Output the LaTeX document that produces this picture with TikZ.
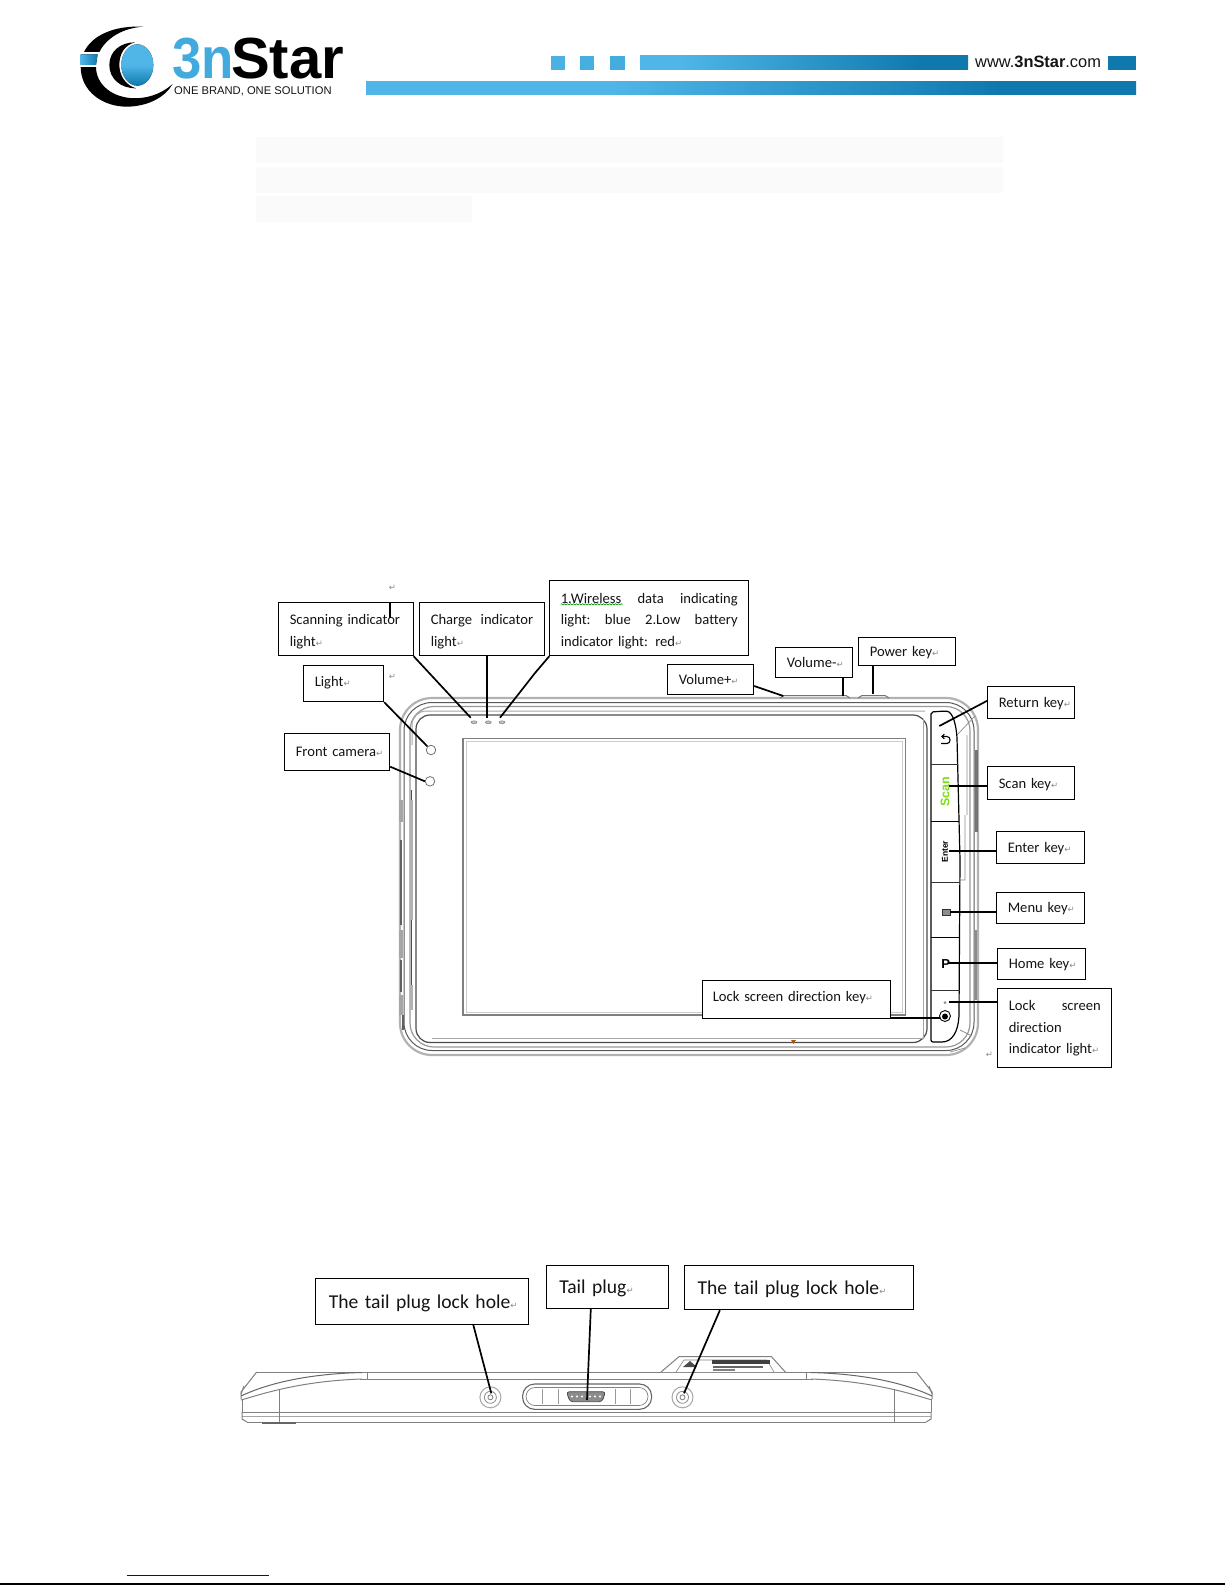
\documentclass[tikz,border=0pt]{standalone}
\usepackage{fontspec}
\setmainfont[Ligatures=CommonOff]{Carlito}
\newfontfamily\dvfont{DejaVu Sans}
\newfontfamily\arfont{Liberation Sans}
\usetikzlibrary{decorations.pathmorphing,shapes.geometric,arrows.meta}
\definecolor{hdrlight}{HTML}{4FB6E7}
\definecolor{hdrdark}{HTML}{0F79AE}
\definecolor{txtc}{HTML}{141414}
\definecolor{markc}{HTML}{8A8A8A}
\definecolor{scangreen}{HTML}{7EDD12}
\pgfdeclarehorizontalshading{hdrupper}{100bp}{color(0bp)=(hdrlight); color(31bp)=(hdrlight); color(68bp)=(hdrdark); color(100bp)=(hdrdark)}
\pgfdeclarehorizontalshading{hdrlower}{100bp}{color(0bp)=(hdrlight); color(41bp)=(hdrlight); color(66bp)=(hdrdark); color(100bp)=(hdrdark)}
\newcommand{\rtm}{{\color{markc}\dvfont\fontsize{8.5}{8.5}\selectfont ↵}}
\tikzset{
  lab/.style={draw=black,line width=.9pt,fill=white,anchor=north west,align=left,inner xsep=11pt,inner ysep=0pt,
    text=txtc,font=\fontsize{14.6}{21.8}\selectfont},
  biglab/.style={lab,font=\fontsize{19.6}{24}\selectfont,inner xsep=13pt},
  dn/.style={execute at end node={\par\vspace*{-#1}}},
  leader/.style={draw=black,line width=1.7pt},
  shell/.style={draw=#1},
  hilite/.style={fill=black!2,draw=none},
  sideline/.style={draw=black!50,line width=1pt},
  markn/.style={inner sep=0pt}
}
\begin{document}
\begin{tikzpicture}[x=1pt,y=-1pt]
\useasboundingbox (0,0) rectangle (1225,1585);
\fill[white] (0,0) rectangle (1225,1585);

% ---- logo, in zoom coordinates
\begin{scope}[shift={(60,10)},x=.3333pt,y=-.3333pt]
  \fill[black] (250,50) .. controls (130,45) and (62,100) .. (62,170)
     .. controls (62,245) and (130,292) .. (205,290)
     .. controls (265,288) and (315,262) .. (338,222)
     .. controls (300,255) and (255,268) .. (210,264)
     .. controls (150,258) and (108,220) .. (108,170)
     .. controls (108,105) and (170,55) .. (250,50) -- cycle;
  \fill[white] (55,125) rectangle (125,172);
  \fill[left color=hdrlight,right color=hdrdark] (62,133) -- (113,133) -- (108,165) -- (62,165) -- cycle;
  \fill[black] (225,97) .. controls (180,97) and (148,125) .. (148,165)
     .. controls (148,205) and (180,235) .. (228,235)
     .. controls (195,225) and (178,195) .. (178,165)
     .. controls (178,130) and (195,105) .. (225,97) -- cycle;
  \fill[top color=hdrlight,bottom color=hdrdark,middle color=hdrlight] (232,165) ellipse [x radius=48,y radius=62];
\end{scope}
\node[inner sep=0pt,anchor=base west,text=hdrlight!80!hdrdark,font=\arfont\bfseries\fontsize{58}{58}\selectfont,xscale=.91,text depth=0pt] (logoa) at (172,78) {3n};
\node[inner sep=0pt,anchor=base west,text=black,font=\arfont\bfseries\fontsize{58}{58}\selectfont,xscale=1.0,text depth=0pt] (logob) at (231,78) {Star};
\node[inner sep=0pt,anchor=base west,text=txtc,font=\arfont\fontsize{11.2}{12}\selectfont] (slogan) at (174,94.5) {ONE BRAND, ONE SOLUTION};

% ---- header bars
\fill[hdrlight!92!hdrdark] (551,55.6) rectangle (565,69.7);
\fill[hdrlight!88!hdrdark] (580,55.6) rectangle (594,69.7);
\fill[hdrlight!84!hdrdark] (610,55.6) rectangle (625,69.7);
\shade[shading=hdrupper] (640,55.6) rectangle (968,69.7);
\fill[hdrdark] (1108,55.6) rectangle (1136,69.7);
\node[inner sep=0pt,anchor=base west,text=txtc,font=\arfont\fontsize{16.4}{16}\selectfont] (site) at (975,67.5) {www.\textbf{3nStar}.com};
\shade[shading=hdrlower] (366,81) rectangle (1136,94);

% ---- highlighted empty lines
\fill[hilite] (256,136.7) rectangle (1002.6,162.7);
\fill[hilite] (256,166.7) rectangle (1002.6,192.7);
\fill[hilite] (256,196) rectangle (472,221.7);

% ---- front view of the device
\draw[shell=black!30,line width=2.2pt,rounded corners=32pt] (400,698) rectangle (978,1055);
\draw[shell=black!65,line width=1pt,rounded corners=28pt] (404,702.5) rectangle (974,1050.5);
\draw[shell=black!40,line width=1.2pt,rounded corners=24pt] (410,706.5) rectangle (970,1047);
\draw[black!35,line width=1pt,rounded corners=14pt] (412,745) -- (412,711) -- (925,711);
\draw[black!70,line width=1.2pt,rounded corners=14pt] (416,1042.5) -- (416,715) -- (927,715) -- (927,1042.5) -- cycle;
\draw[black!35,line width=.8pt] (923,719) -- (923,1038) (432,1038.5) -- (923,1038.5);
\draw[black!35,line width=4pt] (401,800) -- (401,822) (401,930) -- (401,958) (401,995) -- (401,1015);
\draw[black!62,line width=2.5pt] (401,840) -- (401,925) (401,960) -- (401,992) (403,1015) -- (403,1030);
\draw[black!30,line width=3pt] (411,800) -- (411,920) (411,985) -- (411,1010);
\draw[black!70,line width=1pt] (411,790) -- (411,800) (411,920) -- (411,985);
\draw[black!55,line width=3pt] (976,750) -- (976,832);
\draw[black!45,line width=2pt] (976,930) -- (976,1000);
% screen
\draw[black!50,line width=1.8pt] (463,738.5) rectangle (905.5,1015);
\draw[black!20,line width=.6pt] (466,741.5) rectangle (902.5,1012);
% LEDs and front holes
\foreach \n/\xx in {leda/474,ledb/488.3,ledc/502}{
  \node[draw=black!55,fill=black!25,ellipse,inner sep=0pt,minimum width=6pt,minimum height=3pt] (\n) at (\xx,722.3) {};
}
\node[draw=black!55,fill=white,circle,inner sep=0pt,minimum size=9.5pt,line width=.8pt] (lightc) at (431,750) {};
\node[draw=black!55,fill=white,circle,inner sep=0pt,minimum size=9.5pt,line width=.8pt] (camc) at (430,781.3) {};
% small outer details on the right
\draw[black!45,line width=.7pt] (957,735) -- (975,716);
\draw[black!45,line width=.7pt] (967,735) -- (967,815) (965,815) -- (965,880) -- (954,880) (960,1030) -- (972,1036) (950,1052) -- (965,1048);
% top buttons
\draw[black!55,line width=1pt] (780,698) -- (784,695.5) -- (846,695.5) -- (850,698);
\draw[black!55,line width=1pt] (858,698) -- (862,695.5) -- (885,695.5) -- (889,698);
% key strip
\fill[white] (931,712) -- (945,712) .. controls (953,712) and (956,725) .. (957,738) -- (960,860) -- (959,1015) .. controls (958,1032) and (952,1042) .. (940,1042) -- (931,1042) -- cycle;
\draw[black,line width=1.2pt,rounded corners=2pt] (931,1042) -- (931,712) -- (945,711) .. controls (953,712) and (956,725) .. (957,738) -- (960,860) -- (959,1015) .. controls (958,1032) and (952,1042) .. (940,1042) -- cycle;
\draw[black!80,line width=.9pt] (931,764) -- (957.8,764);
\draw[black,line width=1.3pt] (931,821.3) -- (959,821.3);
\draw[black!80,line width=.9pt] (931,882.7) -- (960,882.7);
\draw[black,line width=1.3pt] (931,937.7) -- (960,937.7);
\draw[black!80,line width=.9pt] (931,990) -- (959.5,990);
% key glyphs
\draw[black,line width=1.1pt,-{Straight Barb[length=2.5pt,width=4.5pt]}] (941,743.5) -- (947,743.5) .. controls (951,743.5) and (951,736.5) .. (947,736.5) -- (941,736.5);
\node[inner sep=0pt,rotate=90,text=scangreen,font=\arfont\bfseries\fontsize{12.5}{13}\selectfont] (scanglyph) at (945,791.7) {Scan};
\node[inner sep=0pt,rotate=90,text=black,font=\arfont\bfseries\fontsize{8.5}{9}\selectfont] (enterglyph) at (945,851.7) {Enter};
\draw[black!80,fill=black!45,line width=.8pt] (942,909) rectangle (950,915);
\node[inner sep=0pt,text=black,font=\arfont\bfseries\fontsize{13}{13}\selectfont] (pglyph) at (945.7,964) {P};
\node[fill=black!45,circle,inner sep=0pt,minimum size=3pt] (lockdot) at (945,1002.7) {};
\node[draw=black,circle,inner sep=0pt,minimum size=11pt,line width=.9pt] (lockring) at (945,1016) {};
\node[fill=black,circle,inner sep=0pt,minimum size=6pt] (lockcore) at (945,1016.5) {};
\fill[orange!70!black] (791,1040) -- (796,1040) -- (793.5,1044) -- cycle;

% ---- front view labels
\node[lab,dn=5pt,text width=112.4pt,minimum height=53pt] (scanlight) at (278.3,602.3) {Scanning indicator\\light\rtm};
\node[lab,dn=5pt,text width=102.4pt,minimum height=53pt] (chargelight) at (419.3,602.3) {Charge\hfill indicator\\light\rtm};
\node[lab,dn=5.5pt,text width=177pt,minimum height=75pt] (wireless) at (549.3,580.3) {1.Wireless\hfill data\hfill indicating\\light:\hfill blue\hfill 2.Low\hfill battery\\indicator light: red\rtm};
\node[lab,dn=-2pt,text width=58pt,minimum height=36pt] (lightb) at (303.3,665.3) {\mbox{Light\rtm}};
\node[lab,text width=83pt,minimum height=37pt] (frontcam) at (284.3,733.3) {\mbox{Front camera\rtm}};
\node[lab,dn=8pt,text width=64pt,minimum height=30pt] (volplus) at (667.3,664.3) {\mbox{Volume+\rtm}};
\node[lab,dn=4pt,text width=55pt,minimum height=30pt] (volminus) at (775.3,647.3) {\mbox{Volume-\rtm}};
\node[lab,dn=8pt,text width=75pt,minimum height=28.6pt] (power) at (858.3,636.7) {\mbox{Power key\rtm}};
\node[lab,dn=2pt,text width=65pt,minimum height=32pt] (returnk) at (987.3,686.3) {\mbox{Return key\rtm}};
\node[lab,dn=4pt,text width=65pt,minimum height=33pt] (scank) at (987.3,766.3) {\mbox{Scan key\rtm}};
\node[lab,dn=2pt,text width=66pt,minimum height=32pt] (enterk) at (996.3,831.3) {\mbox{Enter key\rtm}};
\node[lab,dn=2pt,text width=66pt,minimum height=31.6pt] (menuk) at (996.3,891.7) {\mbox{Menu key\rtm}};
\node[lab,dn=2pt,text width=66pt,minimum height=31.6pt] (homek) at (997.3,947.7) {\mbox{Home key\rtm}};
\node[lab,text width=92pt,minimum height=79pt] (lockindic) at (997.3,988.3) {Lock\hfill screen\\direction\\indicator light\rtm};
\node[lab,dn=-3pt,text width=167.4pt,minimum height=38.6pt,inner xsep=10pt] (lockkey) at (702.3,979.7) {\mbox{Lock screen direction key\rtm}};

\draw[decorate,decoration={snake,amplitude=.6pt,segment length=3pt},draw=green!60!black,line width=.6pt] (560.7,604.3) -- (622.7,604.3);

% leader end points
\coordinate (endscan) at (470.7,717.7);
\coordinate (endcharge) at (486.7,717.7);
\coordinate (endwire) at (500,717.7);
\coordinate (endvolp) at (783.3,696);
\coordinate (endvolm) at (843.3,696);
\coordinate (endpow) at (873,694);
\coordinate (endret) at (939.3,726);
\coordinate (endscank) at (949,785.7);
\coordinate (endenter) at (949,850.7);
\coordinate (endmenu) at (950,911.7);
\coordinate (endhome) at (948,963);
\coordinate (endind) at (949.3,1001.7);
\coordinate (endlock) at (940,1017.7);

\draw[leader] (scanlight.south east) -- (endscan);
\draw[leader] (chargelight.south west -| endcharge) -- (endcharge);
\draw[leader] (wireless.south west) -- (535,673) -- (endwire);
\draw[leader] (lightb.south east) -- (lightc.north west);
\draw[leader] (frontcam.south east |- 0,766.7) -- (camc.west);
\draw[leader] (volplus.east |- 0,686) -- (endvolp);
\draw[leader] (volminus.south west -| endvolm) -- (endvolm);
\draw[leader] (power.south west -| endpow) -- (endpow);
\draw[leader] (returnk.west |- 0,700.7) -- (endret);
\draw[leader] (scank.west |- endscank) -- (endscank);
\draw[leader] (enterk.west |- endenter) -- (endenter);
\draw[leader] (menuk.west |- endmenu) -- (endmenu);
\draw[leader] (homek.west |- endhome) -- (endhome);
\draw[leader] (lockindic.west |- endind) -- (endind);
\draw[leader] (lockkey.east |- endlock) -- (endlock);

% stray marks
\draw[black,line width=1.5pt] (390,602.3) -- (390,617.7);
\node[markn] (straya) at (392.5,587.5) {\rtm};
\node[markn] (strayb) at (392.5,676.7) {\rtm};
\node[markn] (strayc) at (989.3,1055) {\rtm};

% ---- bottom view of the device
\draw[sideline] (256.7,1372) -- (916.3,1372);
\draw[sideline] (360,1379) -- (813,1379);
\draw[sideline] (247,1422) -- (926,1422);
\draw[sideline] (242,1412) -- (931,1412);
\draw[sideline,draw=black!35] (242,1416) -- (931,1416);
\draw[sideline] (256.7,1372) -- (241,1392) -- (241,1399);
\draw[sideline] (916.3,1372) -- (932,1392) -- (932,1399);
\draw[sideline] (244,1386) -- (241,1394);
\draw[sideline] (929,1386) -- (932,1394);
\draw[sideline] (242,1412) -- (242,1419) -- (247,1422);
\draw[sideline] (931,1412) -- (931,1419) -- (926,1422);
\draw[sideline] (242,1399) -- (242,1412) (931,1399) -- (931,1412);
\draw[sideline,draw=black!60] (241,1396) .. controls (262,1386) and (300,1374) .. (362,1372.5);
\draw[sideline] (241,1400) .. controls (262,1394) and (300,1381) .. (362,1379);
\draw[sideline,draw=black!60] (932,1396) .. controls (911,1386) and (873,1374) .. (811,1372.5);
\draw[sideline] (932,1400) .. controls (911,1394) and (873,1381) .. (811,1379);
\draw[sideline] (367,1372) -- (367,1380) (806,1372) -- (806,1380);
\draw[sideline] (279,1389) -- (279,1422) (894,1389) -- (894,1422);
\draw[black!60,line width=1.2pt] (262,1423) -- (296,1423);
% label tab
\draw[sideline,fill=white,line width=1pt] (661,1372) -- (679,1356.7) -- (771.5,1356.7) -- (785.3,1372);
\draw[sideline,line width=.6pt] (676,1372) -- (684,1360) -- (767,1360) -- (774,1372);
\fill[black!70] (683,1367) -- (690,1361) -- (697,1367) -- cycle;
\fill[black!75] (712,1360) rectangle (770,1364);
\fill[black!60] (713,1365.5) rectangle (763,1367.5);
\fill[black!50] (713,1369) rectangle (735,1371);
% holes
\foreach \n/\xx in {holea/490.4,holeb/682.5}{
  \node[draw=black!35,fill=white,ellipse,inner sep=0pt,minimum width=21pt,minimum height=21pt,line width=1pt] (\n) at (\xx,1397.3) {};
  \draw[black!45,line width=.8pt] (\xx,1397.3) circle (6pt);
  \draw[black!50,line width=.8pt] (\xx,1397.3) circle (2.5pt);
}
% tail plug
\draw[black!60,line width=1.1pt,fill=white,rounded corners=12pt] (522.6,1384) rectangle (651.6,1409.3);
\draw[black!50,line width=.7pt,rounded corners=9pt] (526,1387.5) rectangle (648,1405.5);
\draw[black!40,line width=.6pt] (542,1389) -- (542,1404) (558,1389) -- (558,1404) (615,1389) -- (615,1404) (630,1389) -- (630,1404);
\draw[black!70,fill=black!45,rounded corners=3pt,line width=.8pt] (566.4,1391.7) -- (605.6,1391.7) -- (602,1401.7) -- (570,1401.7) -- cycle;
\foreach \xx in {572,577,582,590,595,600}{\fill[white] (\xx,1396.5) circle (1.2pt);}

% ---- bottom view labels
\node[biglab,dn=6pt,text width=186.3pt,minimum height=45.7pt] (holelab) at (315.3,1278.3) {\mbox{The tail plug lock hole\rtm}};
\node[biglab,dn=6pt,text width=96pt,minimum height=43pt] (taillab) at (545.8,1265) {\mbox{Tail plug\rtm}};
\node[biglab,dn=6pt,text width=202.5pt,minimum height=44.3pt] (holelabb) at (684.2,1265) {\mbox{The tail plug lock hole\rtm}};
\coordinate (endhole) at (491.3,1393.3);
\coordinate (endtail) at (587,1400);
\coordinate (endholeb) at (684,1393.3);
\draw[leader] (holelab.south west -| 473.3,0) -- (endhole);
\draw[leader] (taillab.south west -| 590.8,0) -- (endtail);
\draw[leader] (holelabb.south west -| 719.9,0) -- (endholeb);

% ---- page foot
\draw[draw=blue!80!black,line width=1pt] (127.3,1575) -- (268.7,1575);
\draw[draw=black,line width=1.2pt] (0,1584) -- (1225,1584);
\end{tikzpicture}
\end{document}
